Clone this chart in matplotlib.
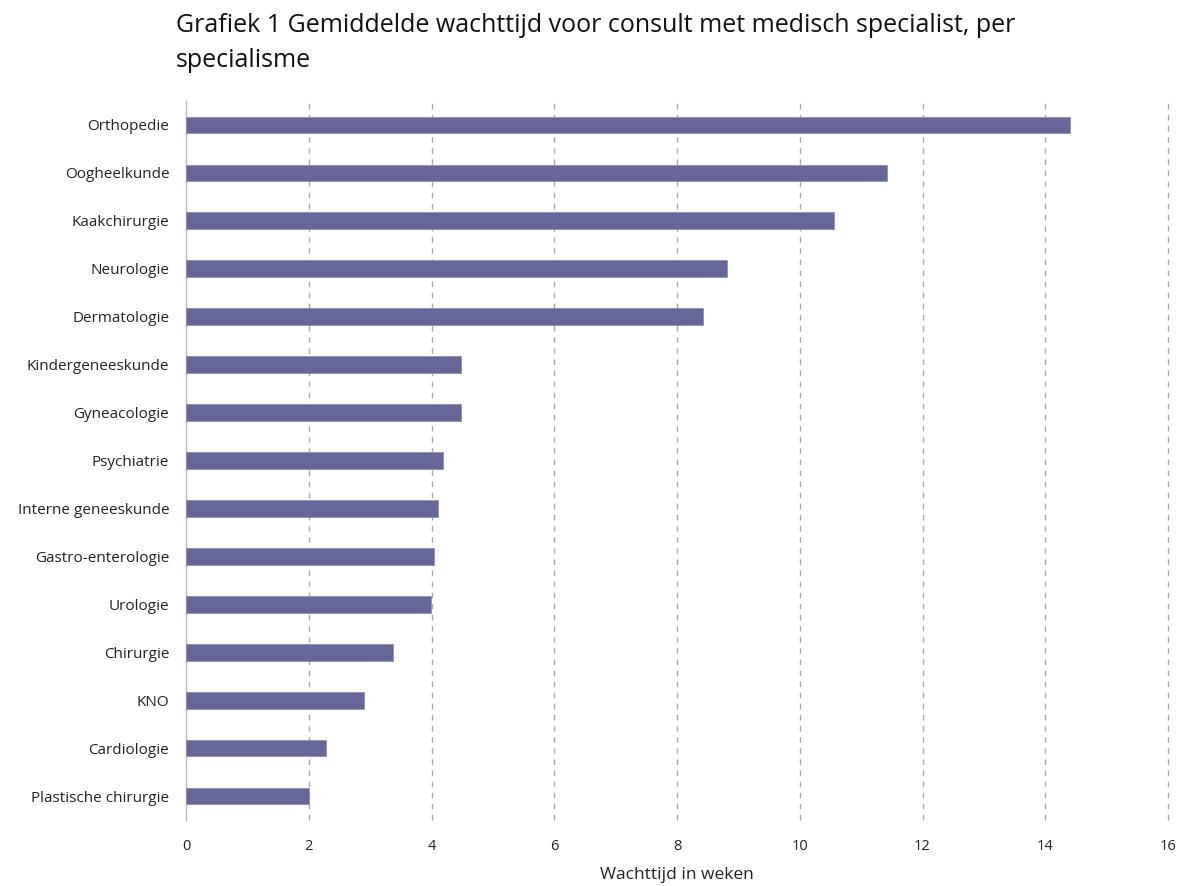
import matplotlib
matplotlib.use("Agg")
import matplotlib.pyplot as plt

plt.rcParams['font.family'] = ['Open Sans', 'DejaVu Sans']

specialismen = [
    'Orthopedie', 'Oogheelkunde', 'Kaakchirurgie', 'Neurologie', 'Dermatologie',
    'Kindergeneeskunde', 'Gyneacologie', 'Psychiatrie', 'Interne geneeskunde',
    'Gastro-enterologie', 'Urologie', 'Chirurgie', 'KNO', 'Cardiologie',
    'Plastische chirurgie',
]
wachttijd = [14.40, 11.42, 10.55, 8.81, 8.42, 4.48, 4.48, 4.19, 4.11,
             4.04, 3.99, 3.37, 2.90, 2.28, 2.00]
xticks = [0, 2, 4, 6, 8, 10, 12, 14, 16]

BAR = '#666699'
GRID = '#AAAAAA'

fig = plt.figure(figsize=(11.84, 8.86), dpi=100, facecolor='white')
ax = fig.add_axes([186 / 1184, 1 - 820 / 886, (1168 - 186) / 1184, (820 - 101) / 886])

pos = list(range(len(specialismen)))
ax.barh(pos, wachttijd, height=0.35, color=BAR, edgecolor='#8F8FB8',
        linewidth=0.6, zorder=3)

ax.set_ylim(len(specialismen) - 0.5, -0.5)
ax.set_xlim(0, 16)
ax.set_yticks(pos)
ax.set_yticklabels(specialismen, fontsize=11, color='#222222')
ax.set_xticks(xticks)
ax.set_xticklabels([str(t) for t in xticks], fontsize=10.5, color='#222222')
ax.tick_params(axis='y', length=0, pad=12)
ax.tick_params(axis='x', length=0, pad=14)

for t in xticks[1:]:
    ax.axvline(t, color=GRID, linestyle=(0, (4, 4)), linewidth=1.0, zorder=1,
               clip_on=False)

for s in ['top', 'right', 'bottom']:
    ax.spines[s].set_visible(False)
ax.spines['left'].set_color('#BBBBBB')
ax.spines['left'].set_linewidth(1.0)

fig.text(677 / 1184, 1 - 875 / 886, 'Wachttijd in weken', fontsize=12.5,
         color='#222222', ha='center', va='center')

fig.text(176 / 1184, 1 - 43 / 886,
         'Grafiek 1 Gemiddelde wachttijd voor consult met medisch specialist, per\nspecialisme',
         fontsize=18, color='#111111', ha='left', va='center', linespacing=1.5)

fig.savefig('out.png', dpi=100, facecolor='white')
